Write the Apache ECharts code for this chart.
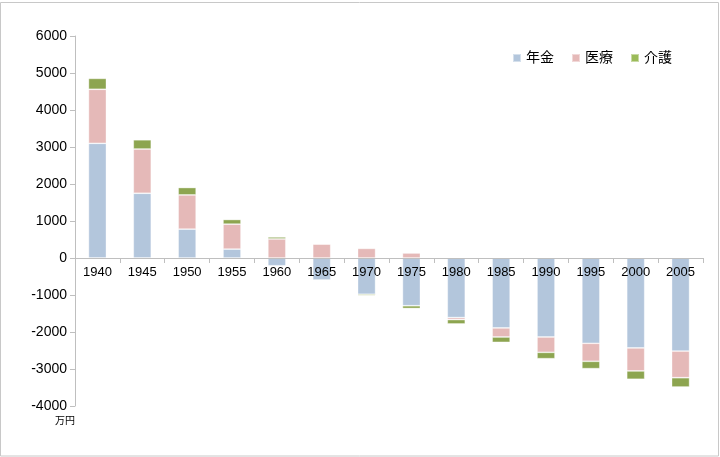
<!DOCTYPE html>
<html><head><meta charset="utf-8">
<script src="https://cdn.jsdelivr.net/npm/echarts@6/dist/echarts.min.js"></script>
<style>html,body{margin:0;padding:0;background:#fff}#c{width:720px;height:457px}</style>
</head><body><div id="c"></div>
<script>
const categories = ['1940','1945','1950','1955','1960','1965','1970','1975','1980','1985','1990','1995','2000','2005'];
const pension = [3100, 1750, 780, 240, -210, -595, -980, -1290, -1610, -1890, -2135, -2305, -2430, -2515];
const medical = [1460, 1195, 925, 675, 515, 378, 260, 135, -55, -245, -415, -487, -622, -720];
const care = [295, 250, 200, 126, 54, 0, -35, -75, -117, -145, -171, -198, -225, -252];
const seriesNames = ['年金', '医療', '介護'];
const colors = ['#b3c6dc', '#e5b9b8', '#8da550'];
const legendColors = ['#b3c6dc', '#e5b9b8', '#9bbb59'];
const font = 'Liberation Sans, Noto Sans CJK JP, sans-serif';

const chart = echarts.init(document.getElementById('c'), null, {renderer: 'canvas'});
const mk = (name, data, i) => ({
  name, type: 'bar', stack: 'all', data, barWidth: 18,
  itemStyle: {color: colors[i], borderColor: 'rgba(255,255,255,0.45)', borderWidth: 0.8},
  emphasis: {disabled: true}
});
chart.setOption({
  animation: false,
  textStyle: {fontFamily: font},
  graphic: [{type: 'rect', shape: {x: 0.5, y: 2.5, width: 718, height: 453.5},
    style: {fill: 'none', stroke: '#c8c8c8', lineWidth: 1}, silent: true},
    {type: 'text', left: 55, top: 416, style: {text: '万円', fontSize: 10, fill: '#000', fontFamily: font}}],
  legend: {
    top: 46, right: 43, itemWidth: 8, itemHeight: 8, itemGap: 17, icon: 'rect',
    textStyle: {fontSize: 14, color: '#000', fontFamily: font},
    data: seriesNames.map((n, i) => ({name: n, itemStyle: {color: legendColors[i]}}))
  },
  grid: {left: 75, right: 17, top: 36, bottom: 51},
  xAxis: {
    type: 'category', data: categories, z: 5, position: 'bottom', offset: -148,
    axisLine: {onZero: false, lineStyle: {color: '#bfbfbf', width: 1}},
    axisTick: {show: true, length: 5, lineStyle: {color: '#bfbfbf'}},
    axisLabel: {color: '#000', fontSize: 13, margin: 8, fontFamily: font}
  },
  yAxis: {
    type: 'value', min: -4000, max: 6000, interval: 1000,
    axisLine: {show: true, lineStyle: {color: '#bfbfbf', width: 1}},
    axisTick: {show: true, length: 5, lineStyle: {color: '#bfbfbf'}},
    splitLine: {show: false},
    axisLabel: {color: '#000', fontSize: 14, margin: 8, fontFamily: font, formatter: v => String(v)}
  },
  series: [mk(seriesNames[0], pension, 0), mk(seriesNames[1], medical, 1), mk(seriesNames[2], care, 2)]
});
</script></body></html>
